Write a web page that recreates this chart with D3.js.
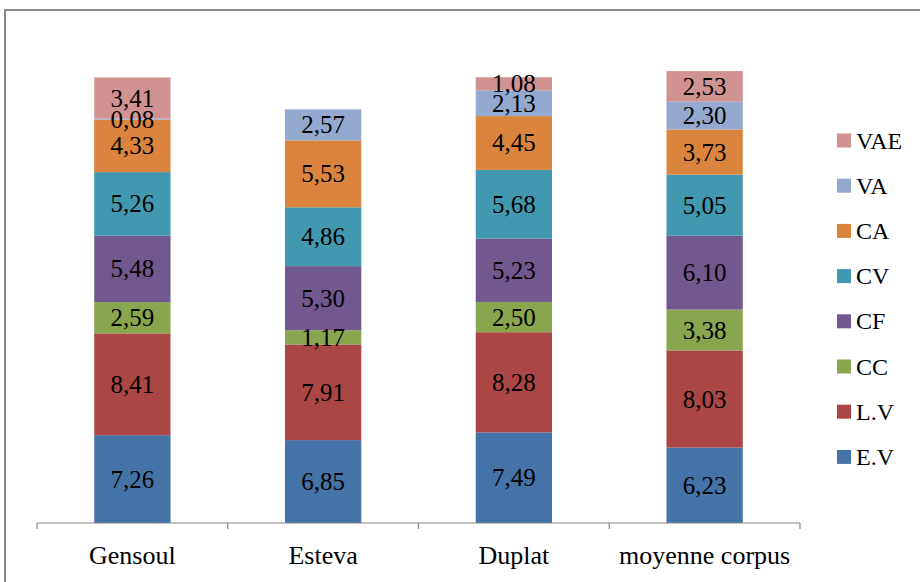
<!DOCTYPE html>
<html>
<head>
<meta charset="utf-8">
<script src="https://cdn.jsdelivr.net/npm/d3@7"></script>
<style>
  body { margin: 0; background: #fff; }
  svg { display: block; }
  text { font-family: "Liberation Serif", "Times New Roman", serif; }
</style>
</head>
<body>
<div class="chart"></div>
<script>
//categories and series (bottom to top)
var categories = ["Gensoul", "Esteva", "Duplat", "moyenne corpus"];
var seriesNames = ["E.V", "L.V", "CC", "CF", "CV", "CA", "VA", "VAE"];
var EV  = [7.26, 6.85, 7.49, 6.23];
var LV  = [8.41, 7.91, 8.28, 8.03];
var CC  = [2.59, 1.17, 2.50, 3.38];
var CF  = [5.48, 5.30, 5.23, 6.10];
var CV  = [5.26, 4.86, 5.68, 5.05];
var CA  = [4.33, 5.53, 4.45, 3.73];
var VA  = [0.08, 2.57, 2.13, 2.30];
var VAE = [3.41, 0, 1.08, 2.53];
var colors = ["#4572A7", "#AA4643", "#89A54E", "#71588F", "#4198AF", "#DB843D", "#93A9CF", "#D19392"];

//svg dims
var width = 920;
var height = 582;
var baseY = 523;

var svg = d3.select(".chart")
            .append("svg")
            .attr("width", width)
            .attr("height", height);

//outer frame
svg.append("rect")
   .attr("x", 5)
   .attr("y", 10)
   .attr("width", 1000)
   .attr("height", 1000)
   .attr("fill", "none")
   .attr("stroke", "#8a8a8a")
   .attr("stroke-width", 2);

//build table for stack
var seriesValues = [EV, LV, CC, CF, CV, CA, VA, VAE];
var table = categories.map((c, i) => {
  var row = { cat: c };
  seriesNames.forEach((s, j) => { row[s] = seriesValues[j][i]; });
  return row;
});
var stacked = d3.stack().keys(seriesNames)(table);

//scales
var xScale = d3.scaleBand()
               .domain(categories)
               .range([37, 800])
               .paddingInner(0.6)
               .paddingOuter(0.3);
var yScale = d3.scaleLinear()
               .domain([0, 40])
               .range([baseY, 39]);

//bars
svg.append("g")
   .selectAll("g")
   .data(stacked)
   .enter()
   .append("g")
   .attr("fill", (d, i) => colors[i])
   .selectAll("rect")
   .data(d => d)
   .enter()
   .append("rect")
   .attr("x", d => xScale(d.data.cat))
   .attr("y", d => yScale(d[1]))
   .attr("width", xScale.bandwidth())
   .attr("height", d => yScale(d[0]) - yScale(d[1]));

//value labels (drawn after all bars)
var fmt = v => d3.format(".2f")(v).replace(".", ",");
var points = [];
stacked.forEach(s => s.forEach(p => { if (p[1] - p[0] > 0) points.push(p); }));
svg.append("g")
   .selectAll("text")
   .data(points)
   .enter()
   .append("text")
   .attr("x", d => xScale(d.data.cat) + xScale.bandwidth() / 2)
   .attr("y", d => (yScale(d[0]) + yScale(d[1])) / 2 + 8.5)
   .attr("text-anchor", "middle")
   .attr("fill", "#000")
   .style("font-size", "25px")
   .text(d => fmt(d[1] - d[0]));

//x axis
var axisG = svg.append("g")
               .attr("transform", `translate(0, ${baseY})`);
axisG.append("line")
     .attr("x1", 37).attr("x2", 800)
     .attr("y1", 0).attr("y2", 0)
     .attr("stroke", "#868686")
     .attr("stroke-width", 1.2);
var edges = categories.map(c => xScale(c) - xScale.step() * xScale.paddingInner() / 2);
edges[0] = 37;
edges.push(800);
axisG.selectAll(".tk")
     .data(edges)
     .enter()
     .append("line")
     .attr("class", "tk")
     .attr("x1", d => d).attr("x2", d => d)
     .attr("y1", 0).attr("y2", 6)
     .attr("stroke", "#868686")
     .attr("stroke-width", 1.2);
axisG.selectAll(".cat")
     .data(categories)
     .enter()
     .append("text")
     .attr("class", "cat")
     .attr("x", d => xScale(d) + xScale.bandwidth() / 2)
     .attr("y", 41)
     .attr("text-anchor", "middle")
     .style("font-size", "26px")
     .text(d => d);

//legend
var legendOrder = seriesNames.slice().reverse();
var legend = svg.append("g")
                .selectAll("g")
                .data(legendOrder)
                .enter()
                .append("g")
                .attr("transform", (d, i) => `translate(837, ${140.5 + i * 45.2})`);
legend.append("rect")
      .attr("x", 0)
      .attr("y", -7)
      .attr("width", 14)
      .attr("height", 14)
      .attr("fill", d => colors[seriesNames.indexOf(d)]);
legend.append("text")
      .attr("x", 19)
      .attr("y", 8)
      .style("font-size", "24px")
      .text(d => d);
</script>
</body>
</html>
